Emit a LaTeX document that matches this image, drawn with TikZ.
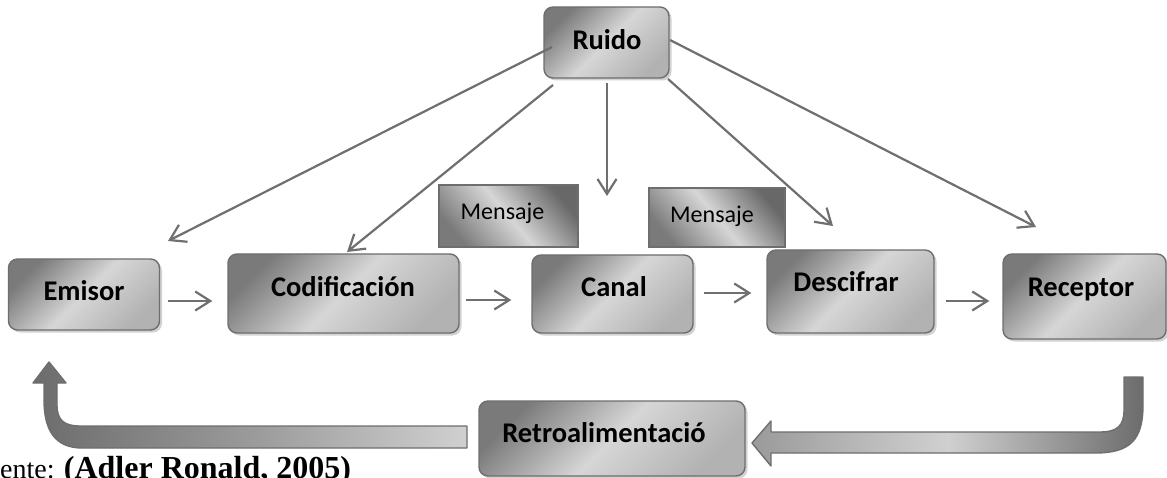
\documentclass[tikz,border=0pt]{standalone}
\usepackage{fontspec}
\setmainfont{Carlito}
\newfontfamily\citefont{Liberation Serif}
\usetikzlibrary{arrows.meta,shadows}
\definecolor{edge}{HTML}{6E6E6E}
\definecolor{gdark}{HTML}{7A7A7A}
\definecolor{glight}{HTML}{D6D6D6}
\definecolor{gmid}{HTML}{B2B2B2}
\definecolor{conncol}{HTML}{6F6F6F}
\definecolor{adark}{HTML}{6C6C6C}
\definecolor{alight}{HTML}{D0D0D0}
\definecolor{amid}{HTML}{9A9A9A}
\tikzset{
  box/.style={draw=edge, line width=1.4pt, rounded corners=9pt, inner sep=0pt,
    top color=gdark, bottom color=gmid, middle color=glight, shading angle=45,
    drop shadow={shadow xshift=2.5pt, shadow yshift=-2.5pt, opacity=0.35}},
  msgbox/.style={draw=edge, line width=1.4pt, inner sep=0pt,
    top color=gdark!85!black, bottom color=gdark, middle color=glight, shading angle=-50},
  lbl/.style={font=\fontsize{28.5}{30}\selectfont\bfseries, anchor=base, inner sep=0pt},
  msglbl/.style={font=\fontsize{24}{26}\selectfont, anchor=base, inner sep=0pt},
  conn/.style={draw=conncol, line width=2.2pt, -{Straight Barb[length=15pt,width=19pt]}},
  barrow/.style={draw=edge, line width=1.4pt, line join=round}
}
\begin{document}
\begin{tikzpicture}[x=1pt,y=-1pt]
\useasboundingbox (0,0) rectangle (1167,478);
\fill[white] (0,0) rectangle (1167,478);
\clip (0,0) rectangle (1167,478);

% boxes
\node[box, minimum width=125pt, minimum height=71pt] (ruido) at (606.5,42.5) {};
\node[msgbox, minimum width=139pt, minimum height=62pt] (msg1) at (508.5,216) {};
\node[msgbox, minimum width=136pt, minimum height=59pt] (msg2) at (717,217.5) {};
\node[box, minimum width=151pt, minimum height=71pt] (emisor) at (84,294.5) {};
\node[box, minimum width=231pt, minimum height=79pt] (cod) at (343.5,293.5) {};
\node[box, minimum width=161pt, minimum height=78pt] (canal) at (612.5,294) {};
\node[box, minimum width=167pt, minimum height=83pt] (desc) at (850.5,291.5) {};
\node[box, minimum width=163pt, minimum height=85pt] (rec) at (1084.5,296.5) {};
\node[box, minimum width=266pt, minimum height=75pt] (retro) at (612,438.5) {};

% labels
\node[lbl] (lruido) at (607,50) {Ruido};
\node[msglbl] (lmsg1) at (502.5,220) {Mensaje};
\node[msglbl] (lmsg2) at (712,223) {Mensaje};
\node[lbl] (lemisor) at (84,301) {Emisor};
\node[lbl] (lcod) at (343,297) {Codificación};
\node[lbl] (lcanal) at (614,297) {Canal};
\node[lbl] (ldesc) at (846,291) {Descifrar};
\node[lbl] (lrec) at (1081,297) {Receptor};
\node[lbl] (lretro) at (604,442) {Retroalimentació};

% horizontal connectors
\coordinate (h1) at (0,301);
\coordinate (h2) at (0,300);
\coordinate (h3) at (0,293);
\coordinate (h4) at (0,301);
\draw[conn, shorten <=7.5pt, shorten >=15pt] (emisor.east |- h1) -- (cod.west |- h1);
\draw[conn, shorten <=6pt, shorten >=20pt] (cod.east |- h2) -- (canal.west |- h2);
\draw[conn, shorten <=10pt, shorten >=15pt] (canal.east |- h3) -- (desc.west |- h3);
\draw[conn, shorten <=11pt, shorten >=13pt] (desc.east |- h4) -- (rec.west |- h4);

% noise connectors
\coordinate (s1) at (552,47);
\coordinate (t1) at (168,241);
\coordinate (s2) at (553,85);
\coordinate (t2) at (347,252);
\coordinate (s3) at (607,83);
\coordinate (t3) at (607,196);
\coordinate (s4) at (668,79);
\coordinate (t4) at (833,226);
\coordinate (s5) at (670,40);
\coordinate (t5) at (1036,227);
\draw[conn] (s1) -- (t1);
\draw[conn] (s2) -- (t2);
\draw[conn] (s3) -- (t3);
\draw[conn] (s4) -- (t4);
\draw[conn] (s5) -- (t5);

% feedback block arrows
\draw[barrow, left color=amid, right color=adark, middle color=alight]
  (1124,377) -- (1143,377) -- (1143,405)
  .. controls (1143,440) and (1130,453) .. (1095,453)
  -- (771,453) -- (771,466) -- (752,443) -- (771,421) -- (771,432)
  -- (1100,432) .. controls (1118,432) and (1124,425) .. (1124,410) -- cycle;
\draw[barrow, left color=adark, right color=alight, middle color=amid]
  (467,426) -- (467,448) -- (82,448)
  .. controls (55,448) and (44,430) .. (44,400)
  -- (44,383) -- (33,383) -- (49,362) -- (66,383) -- (57,383) -- (57,405)
  .. controls (57,420) and (64,426) .. (80,426) -- cycle;

% source
\node[anchor=base west, inner sep=0pt, font=\citefont\fontsize{28}{30}\selectfont] (cite) at (0,478)
  {ente: {\fontsize{32}{34}\selectfont\bfseries(Adler Ronald, 2005)}};
\end{tikzpicture}
\end{document}
